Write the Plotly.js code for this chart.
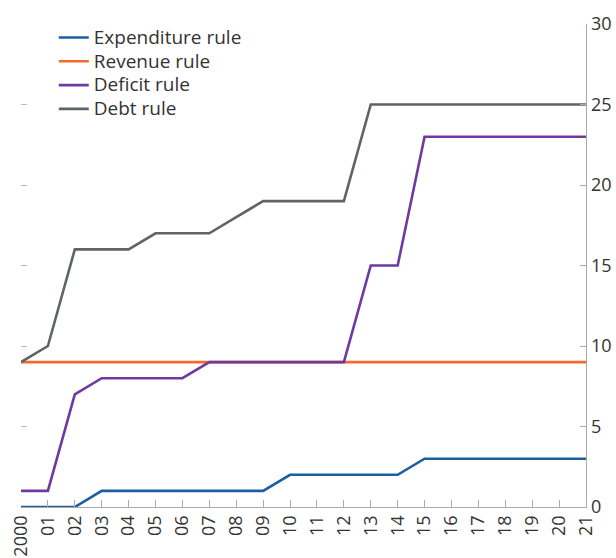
<!DOCTYPE html>
<html>
<head>
<meta charset="utf-8">
<script src="https://cdn.plot.ly/plotly-3.0.1.min.js"></script>
<style>html,body{margin:0;padding:0;background:#fff;}#chart{width:616px;height:558px;}</style>
</head>
<body>
<div id="chart"></div>
<script>
var years = [2000,2001,2002,2003,2004,2005,2006,2007,2008,2009,2010,2011,2012,2013,2014,2015,2016,2017,2018,2019,2020,2021];
var yearLabels = ['2000','01','02','03','04','05','06','07','08','09','10','11','12','13','14','15','16','17','18','19','20','21'];
var expenditureRule = [0,0,0,1,1,1,1,1,1,1,2,2,2,2,2,3,3,3,3,3,3,3];
var revenueRule = [9,9,9,9,9,9,9,9,9,9,9,9,9,9,9,9,9,9,9,9,9,9];
var deficitRule = [1,1,7,8,8,8,8,9,9,9,9,9,9,15,15,23,23,23,23,23,23,23];
var debtRule = [9,10,16,16,16,17,17,17,18,19,19,19,19,25,25,25,25,25,25,25,25,25];
var seriesNames = ['Expenditure rule','Revenue rule','Deficit rule','Debt rule'];
var yTicks = [0,5,10,15,20,25,30];

var colors = ['#1b5fa0','#f26a2c','#6f3a9f','#5f6468'];
var dataSets = [expenditureRule, revenueRule, deficitRule, debtRule];
var traces = dataSets.map(function(d,i){
  return {x: years, y: d, name: '<span style="font-size:19px">' + seriesNames[i] + '</span>',
          type: 'scatter', mode: 'lines',
          line: {color: colors[i], width: 2.6}, yaxis: 'y', cliponaxis: false};
});
traces.push({x: years, y: debtRule, yaxis: 'y2', mode: 'lines', line: {width: 0}, showlegend: false, hoverinfo: 'skip', opacity: 0});

var font = '"Open Sans", Lato, sans-serif';
var layout = {
  width: 616, height: 558,
  margin: {l: 21, r: 30, t: 24, b: 51},
  paper_bgcolor: '#fff', plot_bgcolor: '#fff',
  font: {family: font, size: 17, color: '#333'},
  showlegend: true,
  legend: {x: 0.058, y: 1.007, xanchor: 'left', yanchor: 'top', bgcolor: 'rgba(0,0,0,0)',
           font: {family: font, size: 16, color: '#333'}, tracegroupgap: 0, itemwidth: 30},
  xaxis: {range: [2000, 2021], tickvals: years, ticktext: yearLabels, tickangle: -90,
          ticks: 'inside', ticklen: 7, tickcolor: '#aaa', showline: true, linecolor: '#aaa', linewidth: 1.3,
          showgrid: false, zeroline: false, tickfont: {family: font, size: 18, color: '#333'}},
  yaxis: {range: [0, 30], side: 'right', tickvals: yTicks, ticks: 'inside', ticklen: 6, tickcolor: '#aaa',
          showline: true, linecolor: '#aaa', linewidth: 1.3, showgrid: false, zeroline: false,
          tickfont: {family: font, size: 18, color: '#333'}},
  yaxis2: {range: [0, 30], side: 'left', overlaying: 'y', tickvals: yTicks, ticks: 'inside', ticklen: 6,
           tickcolor: '#bbb', showticklabels: false, showline: false, showgrid: false, zeroline: false},
  annotations: [{text: 'Fiscal rules in force (Number)', xref: 'paper', yref: 'paper', x: 0.03, y: 1.041,
                 xanchor: 'left', yanchor: 'bottom', showarrow: false,
                 font: {family: font, size: 19, color: '#666'}}]
};
Plotly.newPlot('chart', traces, layout, {displayModeBar: false, staticPlot: true});
</script>
</body>
</html>
